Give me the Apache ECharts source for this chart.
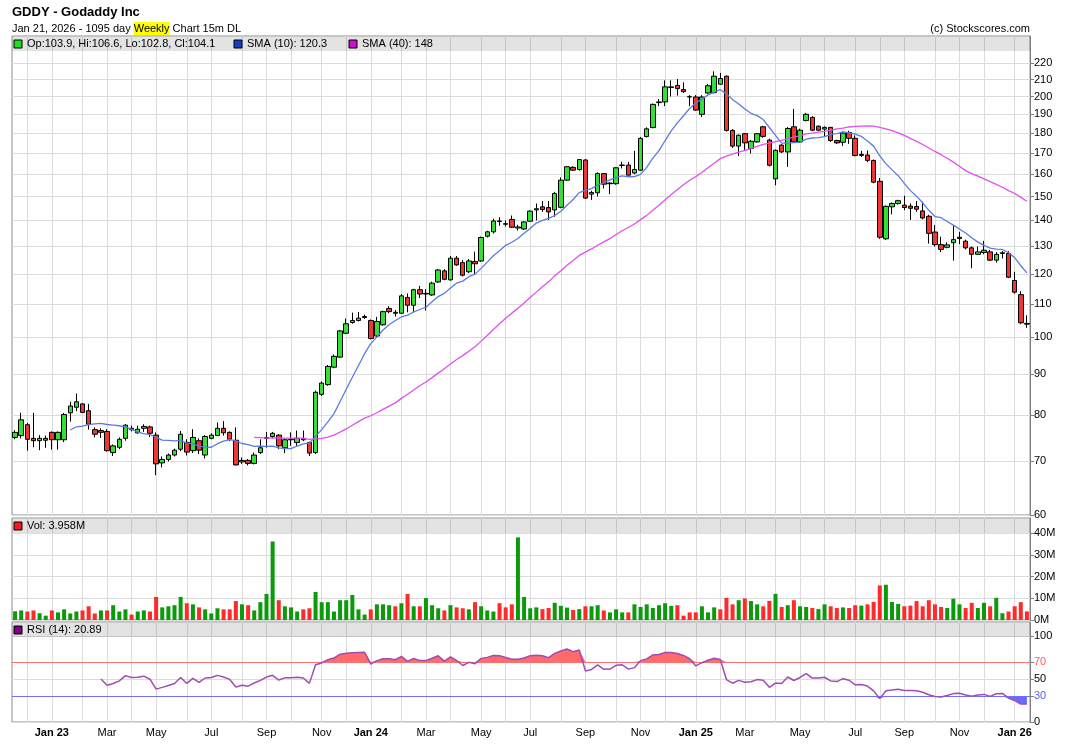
<!DOCTYPE html>
<html>
<head>
<meta charset="utf-8">
<title>GDDY - Godaddy Inc</title>
<script src="https://cdn.jsdelivr.net/npm/echarts@6/dist/echarts.min.js"></script>
<style>
  html, body { margin: 0; padding: 0; background: #fff; }
  #chartDom { width: 1070px; height: 748px; }
</style>
</head>
<body>
<div id="chartDom"></div>
<script>
// weekly bars, the first one is the week of Mon 21 Nov 2022
const firstWeek = '2022-11-21';

const opens = [
  75.0, 75.4, 77.8, 74.8, 74.3, 74.4, 76.1, 74.5, 74.5, 80.5,
  81.8, 82.6, 81.0, 76.7, 76.5, 76.3, 71.8, 72.9, 74.8, 77.0,
  76.0, 77.0, 77.3, 75.5, 69.7, 70.4, 71.3, 72.5, 73.9, 72.2,
  74.3, 71.3, 74.8, 75.4, 77.0, 76.1, 74.4, 69.9, 70.2, 69.6,
  71.8, 75.0, 75.2, 75.5, 72.8, 74.5, 73.9, 74.8, 73.9, 71.8,
  84.9, 87.3, 91.8, 94.5, 101.2, 104.4, 105.0, 105.9, 105.0, 100.4,
  103.7, 108.7, 107.5, 107.2, 112.2, 109.7, 114.7, 113.5, 113.0, 117.3,
  121.1, 118.0, 125.6, 124.0, 120.8, 124.4, 124.6, 133.8, 135.5, 139.8,
  138.7, 140.4, 137.0, 136.6, 139.7, 144.3, 145.6, 145.3, 144.3, 145.4,
  157.2, 163.1, 162.1, 166.6, 151.0, 151.6, 160.2, 155.6, 155.6, 164.2,
  164.2, 160.5, 161.8, 178.2, 182.9, 196.5, 196.9, 205.2, 206.5, 204.0,
  199.9, 199.7, 190.0, 202.0, 202.2, 207.2, 212.0, 181.4, 173.4, 179.7,
  172.2, 175.5, 183.3, 176.4, 157.8, 173.9, 170.5, 183.3, 175.5, 186.6,
  188.3, 183.6, 182.1, 183.0, 176.2, 175.3, 180.3, 177.3, 168.8, 169.0,
  166.4, 156.7, 132.8, 145.6, 147.0, 146.3, 145.9, 145.7, 143.9, 141.7,
  135.4, 130.6, 129.6, 131.3, 133.4, 131.9, 129.4, 127.0, 127.7, 127.9,
  124.9, 127.6, 127.3, 117.8, 113.1, 103.9
];
const closes = [
  76.1, 78.9, 74.6, 74.3, 74.8, 74.8, 74.5, 76.1, 80.1, 82.1,
  83.1, 80.6, 77.9, 75.7, 76.1, 72.2, 73.2, 74.6, 77.7, 76.7,
  76.8, 77.4, 75.9, 69.5, 70.4, 71.3, 72.3, 75.7, 71.9, 75.0,
  72.3, 75.2, 75.5, 77.0, 76.0, 74.6, 69.3, 70.2, 69.6, 71.3,
  72.8, 74.8, 75.9, 73.2, 74.5, 74.6, 74.8, 74.5, 71.7, 85.4,
  87.7, 92.0, 94.7, 101.9, 104.0, 105.0, 105.7, 106.2, 99.7, 104.7,
  107.7, 107.7, 107.2, 112.7, 109.7, 114.7, 113.3, 113.3, 116.9, 121.4,
  118.2, 125.6, 123.2, 119.6, 124.6, 123.6, 133.3, 135.5, 139.8, 139.6,
  138.5, 137.3, 137.4, 139.4, 143.8, 144.8, 144.5, 143.5, 151.3, 157.2,
  163.4, 161.8, 166.8, 149.3, 151.7, 160.2, 155.4, 155.9, 162.9, 164.0,
  159.5, 162.1, 177.3, 182.2, 195.5, 196.9, 205.6, 205.6, 204.6, 202.8,
  199.7, 192.3, 199.7, 206.3, 212.0, 210.6, 181.4, 173.4, 178.9, 175.0,
  175.8, 179.7, 178.3, 164.1, 171.3, 170.5, 182.4, 175.5, 181.5, 190.0,
  181.5, 181.5, 183.0, 176.2, 175.0, 180.0, 177.3, 168.8, 169.3, 166.4,
  156.3, 133.4, 145.8, 147.0, 148.2, 145.3, 145.0, 144.6, 141.0, 134.9,
  130.6, 128.8, 130.5, 132.5, 132.9, 129.4, 127.0, 127.9, 128.5, 124.9,
  127.0, 127.3, 118.9, 113.9, 104.3, 104.1
];
const lows = [
  74.6, 74.8, 72.2, 72.9, 72.3, 72.8, 72.4, 72.4, 74.0, 78.5,
  80.9, 80.4, 76.7, 75.0, 74.9, 72.0, 71.1, 72.5, 74.3, 76.3,
  75.8, 76.2, 75.1, 67.3, 68.8, 70.0, 71.0, 72.1, 71.2, 71.7,
  71.5, 70.6, 74.6, 75.3, 75.4, 74.2, 69.2, 69.5, 69.2, 69.4,
  71.5, 72.8, 74.8, 72.5, 71.7, 73.2, 73.2, 74.2, 71.1, 71.5,
  84.5, 87.0, 91.5, 94.3, 101.0, 104.0, 104.7, 105.5, 99.4, 100.0,
  103.4, 107.2, 106.2, 107.0, 107.5, 107.5, 112.0, 108.0, 112.7, 117.0,
  117.9, 117.8, 122.9, 119.2, 120.3, 120.0, 124.3, 133.3, 134.8, 137.9,
  137.6, 137.0, 136.0, 136.2, 139.5, 140.0, 143.5, 140.2, 141.5, 145.0,
  157.0, 161.5, 161.6, 148.9, 148.5, 150.0, 153.5, 151.0, 155.2, 162.6,
  159.3, 159.9, 161.5, 177.8, 182.5, 194.5, 194.5, 200.0, 200.5, 202.0,
  194.5, 192.0, 188.5, 201.5, 201.8, 207.0, 180.8, 172.5, 168.5, 171.5,
  169.7, 175.1, 177.6, 163.5, 154.9, 170.0, 163.3, 175.0, 174.9, 186.2,
  181.0, 181.0, 178.5, 175.5, 174.5, 173.5, 174.5, 168.3, 168.0, 165.5,
  155.8, 132.8, 132.4, 142.5, 146.5, 144.2, 140.2, 143.5, 140.4, 131.0,
  129.9, 127.8, 129.2, 124.7, 130.8, 128.8, 122.0, 126.9, 127.0, 124.6,
  124.0, 125.5, 118.6, 113.4, 103.9, 102.8
];
const highs = [
  76.6, 80.5, 78.2, 80.5, 75.5, 75.4, 76.3, 76.3, 80.5, 83.1,
  85.1, 82.8, 82.6, 77.2, 77.0, 76.8, 73.5, 75.0, 77.9, 77.6,
  77.6, 77.9, 77.6, 76.1, 71.0, 71.6, 72.6, 76.4, 74.6, 76.8,
  74.8, 75.5, 75.9, 78.3, 78.6, 76.3, 77.2, 70.8, 70.5, 71.8,
  74.6, 76.2, 76.2, 75.7, 74.8, 76.1, 76.5, 76.5, 74.1, 85.8,
  88.1, 92.4, 95.2, 102.2, 105.6, 107.4, 107.6, 106.8, 105.3, 106.1,
  108.0, 109.4, 108.2, 113.3, 113.5, 115.0, 116.0, 114.9, 117.4, 121.7,
  121.7, 126.4, 126.4, 124.9, 125.3, 128.0, 133.7, 135.9, 140.7, 141.3,
  140.0, 142.0, 138.3, 139.7, 144.2, 147.0, 148.0, 148.0, 152.0, 158.5,
  163.6, 163.6, 167.0, 167.0, 152.5, 160.8, 160.5, 156.2, 163.2, 165.8,
  165.7, 171.0, 178.0, 183.0, 196.0, 198.5, 209.5, 209.5, 210.3, 208.3,
  200.8, 200.8, 200.8, 207.3, 215.0, 214.0, 212.5, 182.0, 179.3, 180.0,
  176.5, 180.0, 183.8, 177.1, 171.7, 174.3, 183.2, 193.0, 182.3, 190.8,
  189.0, 184.0, 183.5, 183.2, 176.6, 180.8, 181.2, 178.8, 171.0, 171.2,
  166.8, 158.2, 146.2, 147.4, 148.6, 150.3, 147.0, 148.0, 147.8, 142.3,
  138.2, 133.6, 131.5, 137.8, 135.5, 132.5, 129.9, 129.9, 132.0, 128.6,
  127.8, 128.2, 128.2, 120.8, 114.2, 106.6
];
// weekly volume, millions of shares
const volumes = [
  4.0, 4.4, 3.9, 4.4, 3.1, 2.0, 4.4, 3.5, 4.9, 3.0,
  3.9, 4.4, 6.3, 3.0, 4.4, 4.4, 6.8, 3.9, 4.9, 2.5,
  3.9, 4.4, 3.9, 10.6, 5.8, 6.3, 6.8, 10.6, 7.7, 7.2,
  5.8, 4.9, 3.0, 5.4, 4.9, 4.9, 8.7, 7.2, 6.8, 4.4,
  8.2, 12.0, 36.1, 9.1, 6.3, 5.8, 3.9, 4.9, 5.4, 12.9,
  8.2, 8.2, 3.9, 9.1, 9.1, 11.5, 4.9, 2.5, 4.9, 7.2,
  7.2, 6.8, 6.3, 7.7, 12.0, 6.3, 6.3, 10.1, 6.8, 5.4,
  4.4, 6.8, 5.8, 5.4, 4.9, 8.2, 6.3, 4.4, 3.9, 7.7,
  5.8, 7.2, 38.0, 10.6, 5.4, 5.8, 5.0, 5.5, 7.9, 6.5,
  5.7, 4.6, 5.0, 6.3, 6.3, 6.8, 4.4, 3.5, 4.9, 3.5,
  3.5, 7.2, 6.0, 7.2, 5.5, 6.8, 7.7, 6.5, 6.8, 2.0,
  3.5, 3.5, 6.3, 3.5, 5.8, 4.9, 10.2, 7.2, 9.1, 9.9,
  8.7, 7.2, 6.3, 8.8, 12.0, 6.0, 6.8, 9.1, 6.3, 6.0,
  5.5, 5.0, 7.2, 6.3, 5.5, 5.8, 5.5, 6.8, 6.6, 7.2,
  8.3, 15.9, 16.2, 8.3, 7.4, 6.3, 6.6, 8.7, 6.3, 9.1,
  7.2, 6.0, 5.5, 9.8, 7.2, 5.5, 7.9, 5.5, 7.9, 6.3,
  10.2, 3.1, 3.9, 6.3, 8.2, 3.958
];

const priceTicks = [60, 70, 80, 90, 100, 110, 120, 130, 140, 150, 160, 170, 180, 190, 200, 210, 220];
const volTicks = [0, 10, 20, 30, 40];
const rsiTicks = [0, 30, 50, 70, 100];
// labels on every other month, starting with January 2023
const monthLabels = ['Jan 23', 'Mar', 'May', 'Jul', 'Sep', 'Nov',
  'Jan 24', 'Mar', 'May', 'Jul', 'Sep', 'Nov',
  'Jan 25', 'Mar', 'May', 'Jul', 'Sep', 'Nov', 'Jan 26'];

const UP = '#33e033', DOWN = '#f03535';
const VOL_UP = '#0a9a0a', VOL_DOWN = '#ff2b2b';
const FONT = '"Liberation Sans", Arial, sans-serif';

const N = closes.length;

// first week of every month -> vertical grid lines, odd months get a label
const monthStarts = [];
const labelAt = {};
let labelNo = 0;
const t0 = Date.parse(firstWeek + 'T00:00:00Z');
for (let i = 1; i < N; i++) {
  const d = new Date(t0 + i * 7 * 86400000);
  const prev = new Date(t0 + (i - 1) * 7 * 86400000);
  if (d.getUTCMonth() !== prev.getUTCMonth()) {
    monthStarts.push(i);
    if (d.getUTCMonth() % 2 === 0 && labelNo < monthLabels.length) {
      labelAt[i] = monthLabels[labelNo++];
    }
  }
}
const labelIdx = Object.keys(labelAt).map(Number);

function sma (n) {
  const out = [];
  for (let i = n - 1; i < N; i++) {
    let s = 0;
    for (let k = i - n + 1; k <= i; k++) s += closes[k];
    out.push([i, s / n]);
  }
  return out;
}

// Wilder RSI(14)
function rsi (n) {
  const out = [];
  let g = 0, l = 0;
  for (let i = 1; i <= n; i++) {
    const ch = closes[i] - closes[i - 1];
    if (ch > 0) g += ch; else l -= ch;
  }
  g /= n; l /= n;
  out.push([n, l === 0 ? 100 : 100 - 100 / (1 + g / l)]);
  for (let i = n + 1; i < N; i++) {
    const ch = closes[i] - closes[i - 1];
    g = (g * (n - 1) + Math.max(ch, 0)) / n;
    l = (l * (n - 1) + Math.max(-ch, 0)) / n;
    out.push([i, l === 0 ? 100 : 100 - 100 / (1 + g / l)]);
  }
  return out;
}

const candles = closes.map((c, i) => [i, opens[i], c, lows[i], highs[i]]);
const volData = volumes.map((v, i) => ({
  value: [i, v],
  itemStyle: { color: (i === 0 ? closes[0] >= opens[0] : closes[i] >= closes[i - 1]) ? VOL_UP : VOL_DOWN }
}));
const rsiData = rsi(14);

const gridLine = { show: true, lineStyle: { color: '#dcdcdc', width: 1 } };

function xAxisFor (gridIndex, withLabels) {
  return {
    type: 'value',
    gridIndex: gridIndex,
    min: -0.5,
    max: N - 0.5,
    axisLine: { show: false, onZero: false },
    axisTick: { show: false, customValues: monthStarts },
    splitLine: gridLine,
    axisLabel: {
      show: withLabels,
      customValues: labelIdx,
      margin: 5,
      color: '#000',
      fontSize: 11,
      fontFamily: FONT,
      formatter: function (v) {
        const s = labelAt[Math.round(v)] || '';
        return s.indexOf('Jan') === 0 ? '{b|' + s + '}' : s;
      },
      rich: { b: { fontWeight: 'bold', fontSize: 11, fontFamily: FONT, color: '#000' } }
    }
  };
}

function rightAxis (gridIndex, extra) {
  return Object.assign({
    gridIndex: gridIndex,
    position: 'right',
    axisLine: { show: true, onZero: false, lineStyle: { color: '#808080' } },
    splitLine: gridLine
  }, extra);
}

function band (y) {
  return { type: 'rect', z: 3, silent: true, shape: { x: 12, y: y, width: 1018, height: 14 }, style: { fill: 'rgba(0,0,0,0.11)' } };
}
function key (x, y, color) {
  return { type: 'rect', z: 4, silent: true, shape: { x: x, y: y, width: 8, height: 8 }, style: { fill: color, stroke: '#000', lineWidth: 1 } };
}
function label (x, y, text) {
  return { type: 'text', z: 4, silent: true, x: x, y: y, style: { text: text, fill: '#000', font: '11px ' + FONT, textVerticalAlign: 'middle' } };
}

const chart = echarts.init(document.getElementById('chartDom'));
chart.setOption({
  animation: false,
  backgroundColor: '#fff',
  grid: [
    { left: 12, right: 40, top: 36, height: 479, show: true, borderColor: '#8c8c8c', borderWidth: 1 },
    { left: 12, right: 40, top: 518, height: 102, show: true, borderColor: '#8c8c8c', borderWidth: 1 },
    { left: 12, right: 40, top: 622, height: 100, show: true, borderColor: '#8c8c8c', borderWidth: 1 }
  ],
  xAxis: [xAxisFor(0, false), xAxisFor(1, false), xAxisFor(2, true)],
  yAxis: [
    rightAxis(0, {
      type: 'log', logBase: 10, min: 60, max: 238,
      axisTick: { show: true, length: 4, customValues: priceTicks, lineStyle: { color: '#808080' } },
      axisLabel: { customValues: priceTicks, color: '#000', fontSize: 11, fontFamily: FONT, margin: 4, formatter: v => String(Math.round(v)) }
    }),
    rightAxis(1, {
      type: 'value', min: 0, max: 46.9,
      axisTick: { show: true, length: 4, customValues: volTicks, lineStyle: { color: '#808080' } },
      axisLabel: { customValues: volTicks, color: '#000', fontSize: 11, fontFamily: FONT, margin: 4, formatter: v => v + 'M' }
    }),
    rightAxis(2, {
      type: 'value', min: 0, max: 116.5,
      axisTick: { show: true, length: 4, customValues: rsiTicks, lineStyle: { color: '#808080' } },
      axisLabel: {
        customValues: rsiTicks, fontSize: 11, fontFamily: FONT, margin: 4,
        color: v => (+v === 70 ? '#ff5a5a' : +v === 30 ? '#5a5aff' : '#000')
      }
    })
  ],
  series: [
    {
      type: 'candlestick',
      xAxisIndex: 0, yAxisIndex: 0,
      data: candles,
      encode: { x: 0, y: [1, 2, 3, 4] },
      barWidth: 5,
      z: 4,
      itemStyle: { color: UP, color0: DOWN, borderColor: '#000', borderColor0: '#000', borderWidth: 1 }
    },
    {
      name: 'SMA (10)', type: 'line', xAxisIndex: 0, yAxisIndex: 0,
      data: sma(10), showSymbol: false, z: 5,
      lineStyle: { color: '#5b7be0', width: 1.3 }
    },
    {
      name: 'SMA (40)', type: 'line', xAxisIndex: 0, yAxisIndex: 0,
      data: sma(40), showSymbol: false, z: 5,
      lineStyle: { color: '#e050f0', width: 1.3 }
    },
    {
      type: 'bar', xAxisIndex: 1, yAxisIndex: 1,
      data: volData, barWidth: 4
    },
    // fill between RSI and 70 when overbought
    {
      type: 'line', xAxisIndex: 2, yAxisIndex: 2, silent: true,
      data: rsiData.map(d => [d[0], Math.max(d[1], 70)]), showSymbol: false,
      lineStyle: { opacity: 0 }, areaStyle: { color: '#ff6a6a', opacity: 1, origin: 70 }
    },
    // fill between RSI and 30 when oversold
    {
      type: 'line', xAxisIndex: 2, yAxisIndex: 2, silent: true,
      data: rsiData.map(d => [d[0], Math.min(d[1], 30)]), showSymbol: false,
      lineStyle: { opacity: 0 }, areaStyle: { color: '#6a6aff', opacity: 1, origin: 30 }
    },
    {
      name: 'RSI (14)', type: 'line', xAxisIndex: 2, yAxisIndex: 2, z: 5,
      data: rsiData, showSymbol: false,
      lineStyle: { color: '#a04cb4', width: 1.5 },
      markLine: {
        silent: true, symbol: 'none', label: { show: false },
        lineStyle: { type: 'solid', width: 1 },
        data: [
          { yAxis: 70, lineStyle: { color: '#ff7070', type: 'solid', width: 1 } },
          { yAxis: 30, lineStyle: { color: '#7070ff', type: 'solid', width: 1 } }
        ]
      }
    }
  ],
  graphic: [
    { type: 'text', x: 12, y: 6, style: { text: 'GDDY - Godaddy Inc', fill: '#000', font: 'bold 13px ' + FONT } },
    {
      type: 'text', x: 12, y: 22,
      style: {
        text: '{a|Jan 21, 2026 - 1095 day }{h|Weekly}{a| Chart 15m DL}',
        rich: {
          a: { fontSize: 11, fontFamily: FONT, color: '#000' },
          h: { fontSize: 11, fontFamily: FONT, color: '#000', backgroundColor: '#ffff00', padding: [1, 0, 1, 0] }
        }
      }
    },
    { type: 'text', x: 1030, y: 23, style: { text: '(c) Stockscores.com', fill: '#000', font: '11px ' + FONT, textAlign: 'right' } },
    band(37), band(519), band(623),
    key(14, 40, '#22dd22'), label(27, 44, 'Op:103.9, Hi:106.6, Lo:102.8, Cl:104.1'),
    key(234, 40, '#1440c0'), label(247, 44, 'SMA (10): 120.3'),
    key(349, 40, '#cc10cc'), label(362, 44, 'SMA (40): 148'),
    key(14, 522, '#ee1c1c'), label(27, 526, 'Vol: 3.958M'),
    key(14, 626, '#800080'), label(27, 630, 'RSI (14): 20.89')
  ]
});
</script>
</body>
</html>
